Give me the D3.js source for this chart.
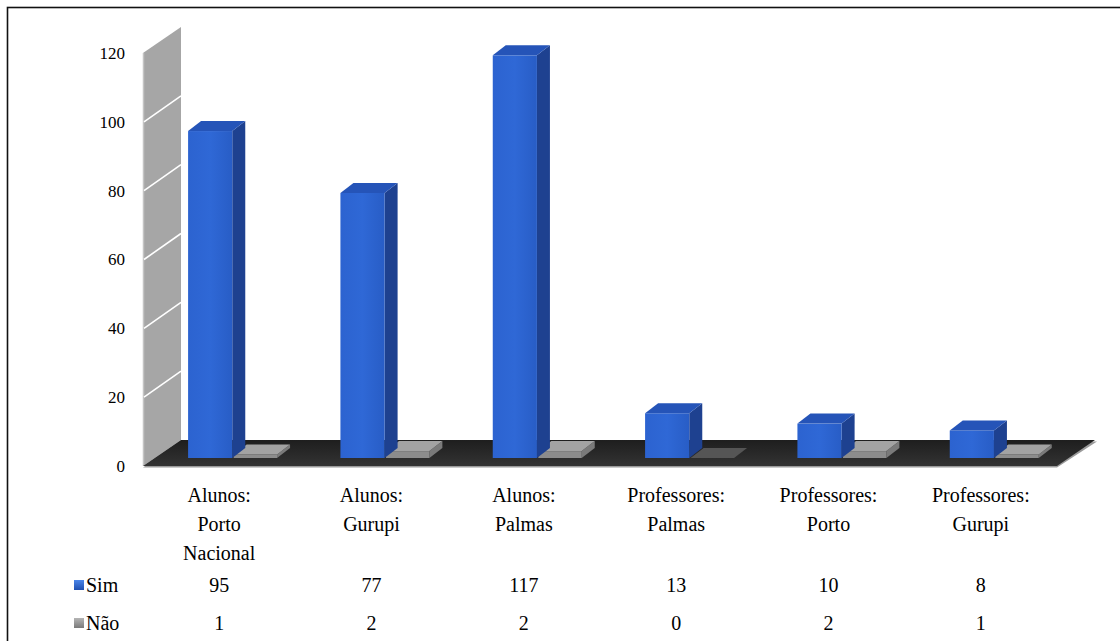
<!DOCTYPE html>
<html>
<head>
<meta charset="utf-8">
<script src="https://cdn.jsdelivr.net/npm/d3@7"></script>
<style>
  body { margin: 0; background: #fff; }
  svg text, svg tspan { font-family: "Liberation Serif", "Times New Roman", Tinos, serif !important; }
</style>
</head>
<body>
<div class="chart"></div>
<script>
// data
var categories = ["Alunos: Porto Nacional", "Alunos: Gurupi", "Alunos: Palmas",
                  "Professores: Palmas", "Professores: Porto", "Professores: Gurupi"];
var categoryLines = [["Alunos:", "Porto", "Nacional"], ["Alunos:", "Gurupi"], ["Alunos:", "Palmas"],
                     ["Professores:", "Palmas"], ["Professores:", "Porto"], ["Professores:", "Gurupi"]];
var simValues = [95, 77, 117, 13, 10, 8];
var naoValues = [1, 2, 2, 0, 2, 1];
var yTicks = [0, 20, 40, 60, 80, 100, 120];

var serif = "\"Liberation Serif\", \"Times New Roman\", Tinos, serif";

function drawChart() {
    var width = 1120, height = 641;

    var svg = d3.select(".chart").append("svg")
        .attr("width", width)
        .attr("height", height)
        .style("font-family", serif);

    // gradients
    var defs = svg.append("defs");
    var gBlue = defs.append("linearGradient").attr("id", "blueFront");
    gBlue.append("stop").attr("offset", "0%").attr("stop-color", "#2c63d0");
    gBlue.append("stop").attr("offset", "50%").attr("stop-color", "#2f68d6");
    gBlue.append("stop").attr("offset", "100%").attr("stop-color", "#285dc6");
    var gFloor = defs.append("linearGradient").attr("id", "floorFill")
        .attr("x1", 0).attr("y1", 0).attr("x2", 0).attr("y2", 1);
    gFloor.append("stop").attr("offset", "0%").attr("stop-color", "#1e1e1e");
    gFloor.append("stop").attr("offset", "100%").attr("stop-color", "#333333");
    var gIconBlue = defs.append("linearGradient").attr("id", "iconBlue")
        .attr("x1", 0).attr("y1", 0).attr("x2", 0).attr("y2", 1);
    gIconBlue.append("stop").attr("offset", "0%").attr("stop-color", "#4b86ea");
    gIconBlue.append("stop").attr("offset", "100%").attr("stop-color", "#1f4fb0");
    var gIconGray = defs.append("linearGradient").attr("id", "iconGray")
        .attr("x1", 0).attr("y1", 0).attr("x2", 0).attr("y2", 1);
    gIconGray.append("stop").attr("offset", "0%").attr("stop-color", "#b5b5b5");
    gIconGray.append("stop").attr("offset", "100%").attr("stop-color", "#7a7a7a");

    // outer border (cropped on right and bottom)
    svg.append("rect")
        .attr("x", 7.5).attr("y", 7.5)
        .attr("width", 1300).attr("height", 800)
        .attr("fill", "none")
        .attr("stroke", "#111")
        .attr("stroke-width", 1.6);

    // scales
    var x = d3.scaleBand().domain(categories).range([143, 1057]);
    var y = d3.scaleLinear().domain([0, 120]).range([466, 53]);

    var depth = {dx: 38, dy: -26};     // floor / wall depth
    var barDepth = {dx: 13, dy: -10};  // bar depth
    var barBase = 458;

    function pts(a) { return a.map(p => p.join(",")).join(" "); }

    // side wall
    var x0 = x.range()[0];
    svg.append("polygon")
        .attr("points", pts([[x0, y(0)], [x0, y(120)], [x0 + depth.dx, y(120) + depth.dy], [x0 + depth.dx, y(0) + depth.dy]]))
        .attr("fill", "#a6a6a6");
    svg.append("line")
        .attr("x1", x0 + 0.5).attr("y1", y(0)).attr("x2", x0 + 0.5).attr("y2", y(120))
        .attr("stroke", "#c4c4c4").attr("stroke-width", 1.5);

    svg.append("g").selectAll("line")
        .data(yTicks.filter(d => d > 0 && d < 120))
        .enter().append("line")
        .attr("x1", x0 + 1).attr("y1", d => y(d))
        .attr("x2", x0 + depth.dx).attr("y2", d => y(d) + depth.dy)
        .attr("stroke", "#fff").attr("stroke-width", 1.6);

    // floor
    var x1 = x.range()[1];
    svg.append("polygon")
        .attr("points", pts([[x0, y(0) + 1.5], [x1, y(0) + 1.5], [x1 + depth.dx + 2, y(0) + depth.dy + 1.5], [x0 + depth.dx, y(0) + depth.dy + 1.5]]))
        .attr("fill", "#9a9a9a");
    svg.append("polygon")
        .attr("points", pts([[x0, y(0)], [x1, y(0)], [x1 + depth.dx, y(0) + depth.dy], [x0 + depth.dx, y(0) + depth.dy]]))
        .attr("fill", "url(#floorFill)");

    // y labels
    svg.append("g").selectAll("text")
        .data(yTicks)
        .enter().append("text")
        .attr("x", 125)
        .attr("y", d => y(d))
        .attr("dy", "0.35em")
        .attr("text-anchor", "end")
        .attr("font-size", 17)
        .style("font-family", serif)
        .text(d => d);

    // bar helper: 3d box
    function drawBox(g, left, w, v, colors) {
        var h = y(0) - y(v);
        var top = barBase - h;
        if (h > 0.5) {
            g.append("polygon")
                .attr("points", pts([[left + w, barBase], [left + w, top], [left + w + barDepth.dx, top + barDepth.dy], [left + w + barDepth.dx, barBase + barDepth.dy]]))
                .attr("fill", colors.side);
            g.append("rect")
                .attr("x", left).attr("y", top)
                .attr("width", w).attr("height", h)
                .attr("fill", colors.front);
        }
        g.append("polygon")
            .attr("points", pts([[left, top], [left + w, top], [left + w + barDepth.dx, top + barDepth.dy], [left + barDepth.dx, top + barDepth.dy]]))
            .attr("fill", h > 0.5 ? colors.top : colors.flat);
    }

    var bw = x.bandwidth();
    var bars = svg.append("g");
    categories.forEach(function(c, i) {
        var start = x(c);
        // Não bars sit to the right of Sim bars, drawn first so Sim overlaps
        drawBox(bars, start + bw * 0.595, bw * 0.285, naoValues[i],
            {front: "#8c8c8c", side: "#7a7a7a", top: "#a3a3a3", flat: "#555555"});
        drawBox(bars, start + bw * 0.296, bw * 0.29, simValues[i],
            {front: "url(#blueFront)", side: "#1e4190", top: "#2554b8"});
    });

    // category labels
    var labels = svg.append("g").selectAll("text")
        .data(categories)
        .enter().append("text")
        .attr("text-anchor", "middle")
        .attr("font-size", 20)
        .style("font-family", serif);
    labels.each(function(c, i) {
        var t = d3.select(this);
        categoryLines[i].forEach(function(line, j) {
            t.append("tspan")
                .attr("x", x(c) + bw / 2)
                .attr("y", 502 + j * 29)
                .text(line);
        });
    });

    // data table
    var rows = [
        {name: "Sim", values: simValues, icon: "url(#iconBlue)", y: 585},
        {name: "Não", values: naoValues, icon: "url(#iconGray)", y: 623}
    ];
    rows.forEach(function(r) {
        svg.append("rect")
            .attr("x", 74).attr("y", r.y - 5)
            .attr("width", 10).attr("height", 10)
            .attr("fill", r.icon);
        svg.append("text")
            .attr("x", 86).attr("y", r.y)
            .attr("dy", "0.35em")
            .attr("font-size", 20)
            .style("font-family", serif)
            .text(r.name);
        svg.append("g").selectAll("text")
            .data(r.values)
            .enter().append("text")
            .attr("x", (d, i) => x(categories[i]) + bw / 2)
            .attr("y", r.y)
            .attr("dy", "0.35em")
            .attr("text-anchor", "middle")
            .attr("font-size", 20)
            .style("font-family", serif)
            .text(d => d);
    });
}

drawChart();
</script>
</body>
</html>
